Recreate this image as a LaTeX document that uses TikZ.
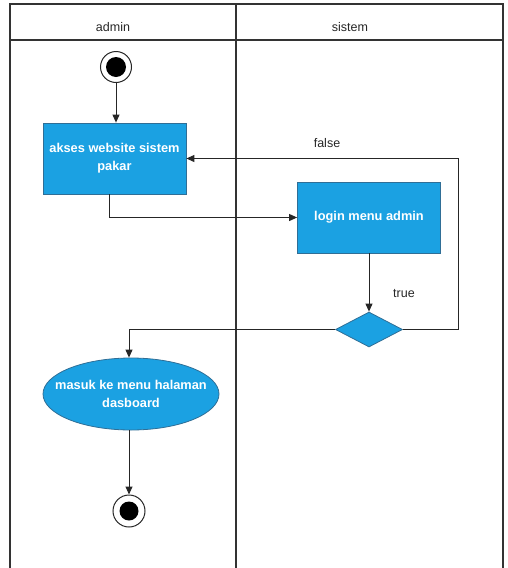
\documentclass[tikz,border=0pt]{standalone}
\usepackage{fontspec}
\setmainfont{Liberation Sans}
\usetikzlibrary{shapes.geometric,arrows.meta}
\definecolor{actfill}{HTML}{1BA1E2}
\definecolor{actdraw}{HTML}{2F6E96}
\definecolor{lanecol}{HTML}{333333}
\begin{document}
\begin{tikzpicture}[x=1pt,y=-1pt,
  lane/.style={draw=lanecol,line width=1.1pt},
  boxtext/.style={text=white,align=center,
    font=\fontsize{12.8}{18}\selectfont\bfseries,inner sep=0pt},
  action/.style={rectangle,draw=actdraw,fill=actfill,line width=0.8pt,
    minimum width=143pt,minimum height=71pt,boxtext},
  oval/.style={ellipse,draw=actdraw,fill=actfill,line width=0.8pt,
    minimum width=176pt,minimum height=72pt,inner sep=0pt},
  decision/.style={diamond,draw=actdraw,fill=actfill,line width=0.8pt,
    minimum width=67pt,minimum height=35pt,inner sep=0pt,aspect=1.9},
  flow/.style={draw=black!85,line width=1pt,-{Triangle[length=8pt,width=7pt]}},
  lbl/.style={font=\fontsize{12.5}{15}\selectfont,text=black!85}]
\useasboundingbox (0,0) rectangle (507,568);

% swimlanes
\draw[lane] (10,568) -- (10,4) -- (503,4) -- (503,568);
\draw[lane] (10,40) -- (503,40);
\draw[lane] (236,4) -- (236,568);
\node[lbl] (hadmin) at (113,27) {admin};
\node[lbl] (hsistem) at (350,27) {sistem};

% start node
\node[circle,draw=black!85,line width=1pt,minimum size=31pt,inner sep=0pt] (start) at (116,67) {};
\node[circle,fill=black,minimum size=20pt,inner sep=0pt] (startdot) at (start) {};

% activities
\node[action] (akses) at (114.5,158.5) {akses website sistem\\pakar};
\node[action] (login) at (369,217.5) {login menu admin};
\node[decision] (dec) at (369,329.5) {};
\node[oval] (masuk) at (131,394) {};
\node[boxtext] (masuktxt) at (masuk) {masuk ke menu halaman\\dasboard};

% end node
\node[circle,draw=black!85,line width=1pt,minimum size=32pt,inner sep=0pt] (end) at (129,511) {};
\node[circle,fill=black,minimum size=19pt,inner sep=0pt] (enddot) at (end) {};

% connectors
\draw[flow] (start) -- (start |- akses.north);
\draw[flow] ([xshift=-5.5pt]akses.south) |- (login.west);
\draw[flow] (login) -- (dec.north);
\coordinate (fr) at (458,329.5);
\draw[flow] (dec.east) -- (fr) |- (akses.east);
\draw[flow] (dec.west) -| ([xshift=-2pt]masuk.north);
\draw[flow] ([xshift=-2pt]masuk.south) -- (end.north);

% guards
\node[lbl] (lfalse) at (327,143) {false};
\node[lbl] (ltrue) at (404,294) {true};
\end{tikzpicture}
\end{document}
